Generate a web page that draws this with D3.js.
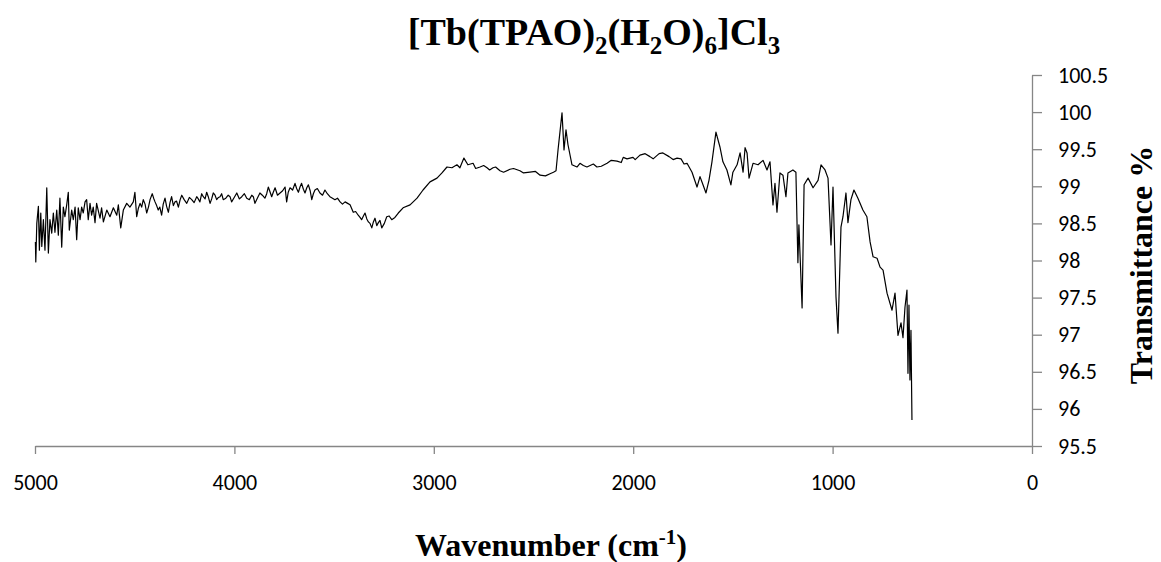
<!DOCTYPE html>
<html>
<head>
<meta charset="utf-8">
<script src="https://cdn.jsdelivr.net/npm/d3@7"></script>
<style>
  body { margin: 0; background: #fff; }
  .tick text { font-family: Calibri, Carlito, "Open Sans", sans-serif; font-size: 22px; fill: #000; }
  .axis path, .axis line { stroke: #868686; stroke-width: 1.3; }
  .serif { font-family: "Liberation Serif", "Times New Roman", serif; font-weight: bold; }
</style>
</head>
<body>
<div id="chart"></div>
<script>
// wavenumber (cm-1) and transmittance (%), 10 per row
var wavenumber = [
    4998, 4996, 4991, 4983, 4978, 4971, 4966, 4958, 4950, 4941,
    4933, 4925, 4916, 4908, 4900, 4891, 4883, 4875, 4866, 4858,
    4850, 4841, 4833, 4828, 4816, 4808, 4799, 4791, 4783, 4774,
    4766, 4758, 4749, 4741, 4733, 4724, 4716, 4708, 4699, 4691,
    4674, 4666, 4657, 4640, 4624, 4607, 4590, 4582, 4570, 4557,
    4540, 4524, 4507, 4499, 4490, 4482, 4473, 4465, 4457, 4448,
    4440, 4431, 4423, 4412, 4405, 4398, 4390, 4382, 4374, 4365,
    4357, 4348, 4340, 4331, 4323, 4315, 4306, 4298, 4290, 4281,
    4272, 4264, 4252, 4239, 4226, 4214, 4202, 4189, 4181, 4173,
    4164, 4156, 4147, 4139, 4131, 4122, 4114, 4106, 4097, 4089,
    4080, 4072, 4064, 4056, 4043, 4031, 4022, 4014, 4001, 3988,
    3975, 3963, 3950, 3938, 3925, 3913, 3905, 3897, 3885, 3872,
    3860, 3847, 3838, 3830, 3822, 3813, 3805, 3796, 3784, 3771,
    3758, 3746, 3738, 3730, 3721, 3708, 3696, 3688, 3679, 3671,
    3663, 3654, 3646, 3637, 3629, 3620, 3612, 3604, 3596, 3584,
    3571, 3558, 3546, 3534, 3521, 3508, 3496, 3483, 3470, 3458,
    3445, 3432, 3420, 3412, 3404, 3392, 3379, 3370, 3362, 3353,
    3345, 3336, 3328, 3320, 3311, 3303, 3295, 3286, 3278, 3270,
    3261, 3248, 3236, 3224, 3211, 3195, 3178, 3154, 3119, 3084,
    3054, 3019, 2984, 2959, 2934, 2909, 2884, 2869, 2849, 2829,
    2803, 2790, 2768, 2750, 2733, 2720, 2703, 2690, 2668, 2650,
    2618, 2600, 2568, 2550, 2518, 2490, 2467, 2440, 2417, 2400,
    2387, 2377, 2357, 2347, 2337, 2327, 2307, 2282, 2267, 2250,
    2232, 2200, 2182, 2160, 2131, 2110, 2081, 2060, 2050, 2031,
    2001, 1990, 1966, 1940, 1916, 1900, 1870, 1851, 1820, 1800,
    1780, 1760, 1745, 1730, 1705, 1680, 1665, 1650, 1635, 1620,
    1605, 1585, 1565, 1550, 1530, 1510, 1500, 1479, 1464, 1449,
    1439, 1429, 1419, 1399, 1374, 1349, 1329, 1314, 1299, 1289,
    1279, 1264, 1249, 1234, 1224, 1199, 1184, 1174, 1169, 1153,
    1143, 1123, 1098, 1073, 1058, 1038, 1023, 1008, 998, 983,
    973, 958, 948, 933, 923, 908, 893, 873, 848, 828,
    812, 797, 777, 762, 747, 727, 702, 687, 672, 657,
    647, 637, 627, 622, 617, 612, 607, 602
];
var transmittance = [
    98.25, 97.98, 98.50, 98.73, 98.14, 98.64, 98.19, 98.55, 98.14, 98.98,
    98.10, 98.55, 98.37, 98.64, 98.38, 98.68, 98.34, 98.84, 98.18, 98.72,
    98.59, 98.75, 98.92, 98.41, 98.68, 98.55, 98.72, 98.28, 98.71, 98.55,
    98.72, 98.64, 98.79, 98.82, 98.55, 98.77, 98.61, 98.72, 98.51, 98.77,
    98.57, 98.71, 98.52, 98.68, 98.59, 98.71, 98.61, 98.75, 98.44, 98.68,
    98.77, 98.72, 98.79, 98.92, 98.59, 98.70, 98.77, 98.72, 98.82, 98.76,
    98.64, 98.72, 98.82, 98.90, 98.84, 98.79, 98.74, 98.68, 98.72, 98.61,
    98.76, 98.84, 98.73, 98.65, 98.78, 98.86, 98.74, 98.79, 98.80, 98.72,
    98.82, 98.88, 98.82, 98.77, 98.85, 98.82, 98.78, 98.86, 98.83, 98.79,
    98.90, 98.86, 98.83, 98.92, 98.86, 98.77, 98.83, 98.91, 98.88, 98.82,
    98.85, 98.86, 98.90, 98.82, 98.84, 98.88, 98.86, 98.79, 98.85, 98.91,
    98.83, 98.86, 98.90, 98.84, 98.82, 98.88, 98.86, 98.77, 98.84, 98.91,
    98.88, 98.84, 98.90, 98.99, 98.93, 98.86, 98.92, 98.98, 98.88, 98.91,
    98.94, 98.99, 98.79, 98.92, 98.98, 98.95, 99.04, 98.97, 98.92, 98.99,
    99.04, 98.96, 98.91, 98.98, 99.02, 98.94, 98.82, 98.90, 98.95, 98.97,
    98.91, 98.88, 98.95, 98.90, 98.86, 98.84, 98.82, 98.84, 98.79, 98.76,
    98.79, 98.77, 98.75, 98.70, 98.65, 98.66, 98.61, 98.58, 98.55, 98.60,
    98.64, 98.56, 98.52, 98.50, 98.44, 98.52, 98.57, 98.47, 98.51, 98.54,
    98.44, 98.50, 98.59, 98.60, 98.55, 98.58, 98.64, 98.71, 98.75, 98.84,
    98.95, 99.06, 99.11, 99.18, 99.26, 99.25, 99.29, 99.25, 99.38, 99.29,
    99.31, 99.24, 99.26, 99.28, 99.25, 99.22, 99.25, 99.26, 99.21, 99.19,
    99.23, 99.24, 99.21, 99.18, 99.19, 99.20, 99.15, 99.14, 99.17, 99.19,
    99.21, 99.49, 99.99, 99.49, 99.76, 99.56, 99.29, 99.26, 99.31, 99.28,
    99.26, 99.30, 99.26, 99.27, 99.31, 99.35, 99.34, 99.32, 99.39, 99.37,
    99.39, 99.36, 99.42, 99.44, 99.40, 99.37, 99.44, 99.45, 99.40, 99.36,
    99.38, 99.37, 99.30, 99.31, 99.19, 98.99, 99.13, 99.02, 98.91, 99.08,
    99.33, 99.73, 99.53, 99.33, 99.22, 99.02, 99.19, 99.29, 99.45, 99.19,
    99.52, 99.45, 99.11, 99.31, 99.29, 99.35, 99.22, 99.33, 98.75, 99.04,
    98.65, 99.18, 99.15, 98.86, 99.18, 99.22, 99.19, 97.97, 98.48, 97.36,
    99.02, 99.11, 98.98, 99.08, 99.29, 99.22, 99.11, 98.21, 98.99, 97.51,
    97.02, 98.45, 98.59, 98.91, 98.51, 98.82, 98.95, 98.84, 98.68, 98.59,
    98.25, 98.05, 98.03, 97.91, 97.87, 97.56, 97.33, 97.56, 96.99, 97.16,
    96.96, 97.37, 97.60, 96.48, 97.40, 96.39, 97.06, 95.85
];

var xTicks = [5000, 4000, 3000, 2000, 1000, 0];
var yTicks = [95.5, 96, 96.5, 97, 97.5, 98, 98.5, 99, 99.5, 100, 100.5];

var width = 1161, height = 562;

var svg = d3.select("#chart").append("svg")
    .attr("width", width)
    .attr("height", height);

var x = d3.scaleLinear().domain([5000, 0]).range([35, 1032]);
var y = d3.scaleLinear().domain([95.5, 100.5]).range([446, 75]);

var xAxis = d3.axisBottom(x)
    .tickValues(xTicks)
    .tickFormat(d3.format("d"))
    .tickSize(8)
    .tickSizeOuter(0)
    .tickPadding(20);

var yAxis = d3.axisRight(y)
    .tickValues(yTicks)
    .tickFormat(function (d) { return String(d); })
    .tickSize(10)
    .tickSizeOuter(0)
    .tickPadding(16);

svg.append("g")
    .attr("class", "axis x-axis")
    .attr("transform", "translate(0," + y(95.5) + ")")
    .call(xAxis);

svg.append("g")
    .attr("class", "axis y-axis")
    .attr("transform", "translate(" + x(0) + ",0)")
    .call(yAxis);

svg.selectAll(".y-axis .tick text").attr("text-anchor", "start");

var data = wavenumber.map(function (w, i) {
    return { w: w, t: transmittance[i] };
});

var line = d3.line()
    .x(function (d) { return x(d.w); })
    .y(function (d) { return y(d.t); });

svg.append("path")
    .datum(data)
    .attr("fill", "none")
    .attr("stroke", "#000")
    .attr("stroke-width", 1.2)
    .attr("stroke-linejoin", "round")
    .attr("d", line);

// title with subscripts
var title = svg.append("text")
    .attr("class", "serif")
    .attr("x", 594)
    .attr("y", 45)
    .attr("text-anchor", "middle")
    .style("font-size", "38px");
var parts = [["[Tb(TPAO)", 0], ["2", 1], ["(H", 0], ["2", 1], ["O)", 0], ["6", 1], ["]Cl", 0], ["3", 1]];
parts.forEach(function (p, i) {
    var prev = i > 0 ? parts[i - 1][1] : 0;
    title.append("tspan")
        .attr("dy", p[1] === prev ? 0 : (p[1] ? 9 : -9))
        .style("font-size", p[1] ? "25px" : "38px")
        .text(p[0]);
});

// y axis title
svg.append("text")
    .attr("class", "serif")
    .attr("transform", "translate(1152,265) rotate(-90)")
    .attr("text-anchor", "middle")
    .style("font-size", "32px")
    .text("Transmittance %");

// x axis title
var xt = svg.append("text")
    .attr("class", "serif")
    .attr("x", 551)
    .attr("y", 556)
    .attr("text-anchor", "middle")
    .style("font-size", "32px");
xt.append("tspan").text("Wavenumber (cm");
xt.append("tspan").attr("dy", -12).style("font-size", "21px").text("-1");
xt.append("tspan").attr("dy", 12).text(")");
</script>
</body>
</html>
